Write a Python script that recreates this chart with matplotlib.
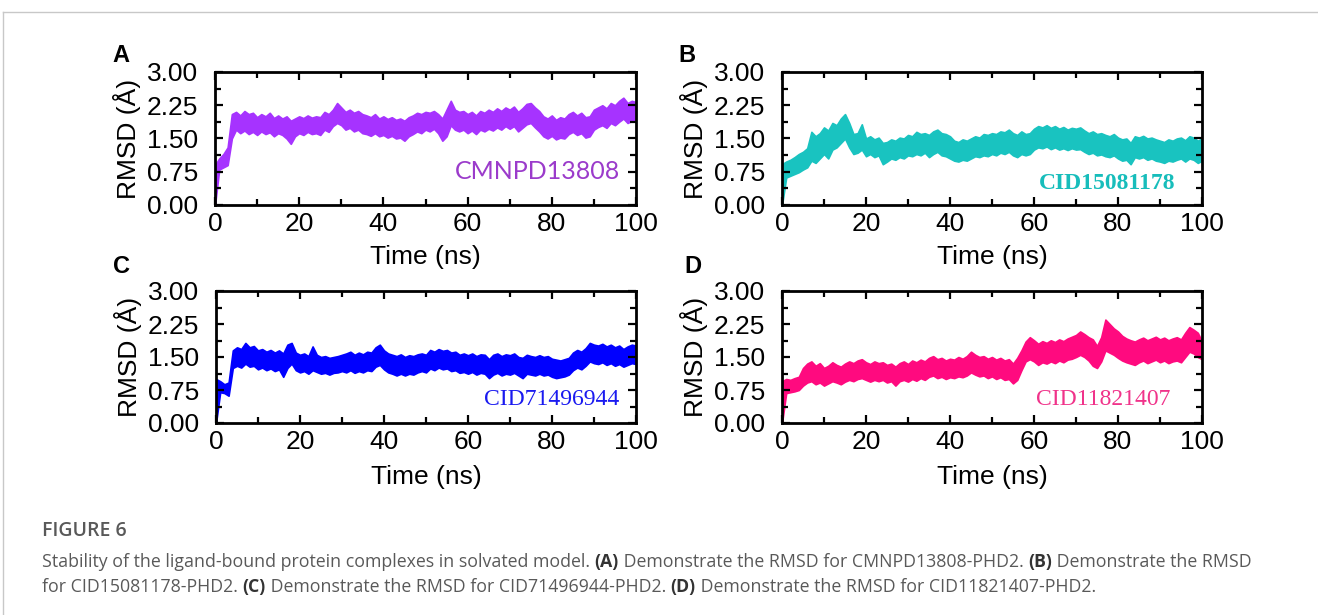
import numpy as np
import matplotlib
matplotlib.use("Agg")
import matplotlib.pyplot as plt
from matplotlib.ticker import MultipleLocator

plt.rcParams['font.family'] = ['Liberation Sans', 'DejaVu Sans']

# tiempo (ns), una lectura por ns
tiempo = np.arange(0, 101)

# envolventes (RMSD en Angstrom)
a_sup = [0.90, 1.05, 1.15, 1.30, 2.05, 2.10, 2.02, 2.12, 2.05, 2.08,
         1.98, 2.05, 2.00, 2.08, 1.96, 2.02, 1.95, 2.00, 1.90, 1.95,
         2.00, 1.96, 2.02, 1.97, 2.00, 1.98, 2.10, 2.05, 2.15, 2.30,
         2.20, 2.10, 2.15, 2.08, 2.12, 2.05, 2.02, 1.98, 2.05, 1.95,
         2.00, 1.94, 1.98, 1.92, 1.95, 1.90, 1.98, 2.02, 2.08, 2.05,
         2.10, 2.08, 2.12, 2.05, 1.95, 2.15, 2.35, 2.15, 2.10, 2.12,
         2.05, 2.10, 2.02, 2.12, 2.08, 2.15, 2.10, 2.18, 2.12, 2.20,
         2.15, 2.22, 2.10, 2.18, 2.28, 2.30, 2.20, 2.12, 2.00, 1.95,
         2.02, 1.92, 1.98, 1.95, 2.05, 2.10, 2.02, 2.08, 1.98, 2.00,
         2.15, 2.20, 2.25, 2.18, 2.30, 2.25, 2.35, 2.42, 2.30, 2.35, 2.32]
a_inf = [0.00, 0.80, 0.85, 0.90, 1.50, 1.70, 1.62, 1.68, 1.60, 1.65,
         1.58, 1.66, 1.60, 1.64, 1.55, 1.62, 1.58, 1.50, 1.38, 1.55,
         1.62, 1.58, 1.65, 1.60, 1.62, 1.58, 1.70, 1.65, 1.78, 1.85,
         1.80, 1.70, 1.74, 1.66, 1.70, 1.62, 1.60, 1.56, 1.62, 1.55,
         1.58, 1.52, 1.56, 1.50, 1.52, 1.45, 1.55, 1.60, 1.66, 1.62,
         1.70, 1.66, 1.72, 1.62, 1.45, 1.55, 1.80, 1.70, 1.66, 1.70,
         1.62, 1.68, 1.60, 1.70, 1.66, 1.72, 1.68, 1.75, 1.70, 1.78,
         1.72, 1.78, 1.66, 1.74, 1.82, 1.85, 1.75, 1.66, 1.55, 1.50,
         1.56, 1.48, 1.52, 1.50, 1.60, 1.65, 1.58, 1.62, 1.52, 1.55,
         1.70, 1.76, 1.80, 1.74, 1.85, 1.80, 1.88, 1.95, 1.85, 1.90, 1.88]

b_sup = [0.92, 0.98, 1.02, 1.08, 1.15, 1.20, 1.28, 1.65, 1.55, 1.62,
         1.75, 1.68, 1.85, 1.80, 1.95, 2.05, 1.85, 1.60, 1.62, 1.82,
         1.50, 1.55, 1.48, 1.52, 1.40, 1.42, 1.48, 1.45, 1.52, 1.50,
         1.58, 1.55, 1.65, 1.60, 1.62, 1.58, 1.66, 1.70, 1.62, 1.60,
         1.55, 1.45, 1.42, 1.48, 1.45, 1.50, 1.55, 1.52, 1.60, 1.58,
         1.62, 1.60, 1.66, 1.64, 1.70, 1.62, 1.58, 1.66, 1.60, 1.62,
         1.72, 1.78, 1.75, 1.80, 1.74, 1.78, 1.72, 1.76, 1.70, 1.74,
         1.72, 1.75, 1.68, 1.62, 1.66, 1.60, 1.62, 1.58, 1.55, 1.60,
         1.52, 1.48, 1.50, 1.40, 1.55, 1.52, 1.56, 1.50, 1.52, 1.48,
         1.45, 1.42, 1.48, 1.45, 1.50, 1.52, 1.46, 1.55, 1.52, 1.45, 1.50]
b_inf = [0.00, 0.62, 0.66, 0.70, 0.74, 0.80, 0.85, 1.00, 0.95, 1.05,
         1.15, 1.05, 1.25, 1.30, 1.40, 1.50, 1.30, 1.15, 1.18, 1.25,
         1.10, 1.15, 1.08, 1.12, 0.92, 0.98, 1.05, 1.02, 1.08, 1.05,
         1.12, 1.10, 1.15, 1.12, 1.18, 1.08, 1.15, 1.20, 1.12, 1.10,
         1.05, 1.00, 0.98, 1.02, 1.00, 1.05, 1.10, 1.08, 1.12, 1.10,
         1.15, 1.12, 1.18, 1.15, 1.20, 1.12, 1.08, 1.15, 1.12, 1.15,
         1.25, 1.30, 1.28, 1.32, 1.26, 1.30, 1.25, 1.28, 1.24, 1.28,
         1.25, 1.26, 1.20, 1.15, 1.18, 1.12, 1.14, 1.10, 1.08, 1.12,
         1.05, 1.00, 1.02, 0.92, 1.08, 1.05, 1.08, 1.02, 1.05, 1.00,
         0.98, 0.95, 1.00, 0.98, 1.02, 1.05, 0.98, 1.05, 1.02, 0.95, 1.00]

c_sup = [1.00, 0.95, 0.88, 0.92, 1.65, 1.72, 1.68, 1.82, 1.72, 1.75,
         1.65, 1.68, 1.62, 1.66, 1.60, 1.65, 1.58, 1.78, 1.82, 1.60,
         1.55, 1.58, 1.52, 1.74, 1.55, 1.50, 1.52, 1.48, 1.50, 1.52,
         1.55, 1.58, 1.62, 1.55, 1.60, 1.56, 1.62, 1.60, 1.72, 1.78,
         1.65, 1.58, 1.55, 1.52, 1.56, 1.50, 1.54, 1.52, 1.56, 1.58,
         1.55, 1.66, 1.62, 1.68, 1.64, 1.66, 1.60, 1.62, 1.55, 1.58,
         1.54, 1.58, 1.52, 1.56, 1.55, 1.45, 1.55, 1.58, 1.52, 1.56,
         1.54, 1.58, 1.50, 1.48, 1.55, 1.52, 1.50, 1.54, 1.50, 1.52,
         1.46, 1.44, 1.42, 1.45, 1.48, 1.60, 1.66, 1.62, 1.70, 1.82,
         1.78, 1.76, 1.80, 1.74, 1.78, 1.72, 1.76, 1.68, 1.74, 1.78, 1.76]
c_inf = [0.00, 0.70, 0.68, 0.62, 1.25, 1.30, 1.26, 1.35, 1.28, 1.30,
         1.22, 1.26, 1.20, 1.24, 1.18, 1.22, 1.05, 1.25, 1.35, 1.20,
         1.15, 1.18, 1.12, 1.20, 1.16, 1.12, 1.14, 1.10, 1.14, 1.15,
         1.18, 1.15, 1.20, 1.14, 1.18, 1.15, 1.20, 1.18, 1.28, 1.32,
         1.22, 1.15, 1.12, 1.08, 1.12, 1.08, 1.12, 1.10, 1.15, 1.18,
         1.15, 1.24, 1.20, 1.26, 1.22, 1.24, 1.18, 1.20, 1.14, 1.16,
         1.12, 1.16, 1.10, 1.14, 1.12, 1.02, 1.10, 1.14, 1.08, 1.12,
         1.10, 1.14, 1.08, 1.02, 1.12, 1.10, 1.08, 1.12, 1.08, 1.10,
         1.05, 1.02, 1.04, 1.06, 1.10, 1.20, 1.26, 1.22, 1.30, 1.40,
         1.36, 1.34, 1.38, 1.32, 1.36, 1.30, 1.34, 1.28, 1.32, 1.36, 1.34]

d_sup = [0.95, 1.00, 0.98, 1.02, 1.05, 1.25, 1.35, 1.40, 1.30, 1.36,
         1.25, 1.30, 1.38, 1.32, 1.28, 1.35, 1.40, 1.36, 1.42, 1.45,
         1.38, 1.34, 1.40, 1.36, 1.38, 1.32, 1.35, 1.28, 1.36, 1.40,
         1.34, 1.42, 1.38, 1.44, 1.40, 1.48, 1.52, 1.45, 1.48, 1.42,
         1.46, 1.44, 1.50, 1.46, 1.52, 1.62, 1.55, 1.50, 1.52, 1.46,
         1.50, 1.44, 1.48, 1.42, 1.45, 1.35, 1.48, 1.65, 1.85, 1.95,
         1.88, 1.80, 1.86, 1.82, 1.88, 1.84, 1.90, 1.86, 1.92, 1.96,
         2.00, 2.08, 2.02, 1.95, 1.90, 1.75, 1.95, 2.35, 2.25, 2.15,
         2.08, 1.98, 1.92, 1.88, 1.85, 1.90, 1.94, 1.88, 1.92, 1.96,
         1.90, 1.94, 1.88, 1.92, 1.95, 1.90, 2.05, 2.18, 2.12, 2.05, 1.85]
d_inf = [0.00, 0.68, 0.70, 0.72, 0.75, 0.85, 0.92, 0.95, 0.88, 0.92,
         0.85, 0.90, 0.95, 0.92, 0.88, 0.94, 0.98, 0.95, 1.00, 1.02,
         0.98, 0.94, 0.98, 0.95, 0.98, 0.92, 0.95, 0.85, 0.95, 0.98,
         0.94, 1.00, 0.96, 1.02, 0.98, 1.05, 1.08, 1.02, 1.05, 1.00,
         1.04, 1.02, 1.06, 1.04, 1.08, 1.15, 1.10, 1.06, 1.08, 1.02,
         1.06, 1.00, 1.04, 0.98, 1.00, 0.90, 0.98, 1.20, 1.40, 1.45,
         1.40, 1.32, 1.38, 1.35, 1.40, 1.36, 1.42, 1.38, 1.44, 1.46,
         1.50, 1.55, 1.50, 1.42, 1.30, 1.25, 1.40, 1.65, 1.60, 1.55,
         1.48, 1.42, 1.38, 1.35, 1.32, 1.38, 1.42, 1.36, 1.40, 1.44,
         1.38, 1.42, 1.36, 1.40, 1.42, 1.38, 1.50, 1.62, 1.58, 1.50, 1.45]

nombres = ['CMNPD13808', 'CID15081178', 'CID71496944', 'CID11821407']
letras = ['A', 'B', 'C', 'D']
colores = ['#A633FF', '#19C3C0', '#0000FF', '#FF0A7F']
colores_txt = ['#9B3BCB', '#17BDBB', '#1A1AF0', '#F0338A']

fig = plt.figure(figsize=(13.18, 6.15), dpi=100)
W, H = 1318, 615

# marco gris de la pagina
fig.add_artist(plt.Line2D([3 / W, 1], [1 - 12 / H, 1 - 12 / H], color='#c8c8c8', lw=1))
fig.add_artist(plt.Line2D([3 / W, 3 / W], [0, 1 - 12 / H], color='#c8c8c8', lw=1))

# cajas en pixeles: (izq, arriba, der, abajo)
cajas = [(215, 72, 636, 205), (782, 72, 1202, 205),
         (216, 291, 636, 423), (782, 291, 1202, 423)]
datos = [(a_sup, a_inf), (b_sup, b_inf), (c_sup, c_inf), (d_sup, d_inf)]
pos_txt = [(0.765, 0.25), (0.775, 0.16), (0.80, 0.175), (0.765, 0.175)]
fuentes_txt = [dict(family='Lato', weight='normal', size=18),
               dict(family='Liberation Serif', weight='bold', size=17),
               dict(family='Liberation Serif', weight='normal', size=17),
               dict(family='Liberation Serif', weight='normal', size=17)]
pos_letra = [(121, 55), (687, 55), (121, 267), (693, 267)]

for i in range(4):
    x0, y0, x1, y1 = cajas[i]
    ax = fig.add_axes([x0 / W, 1 - y1 / H, (x1 - x0) / W, (y1 - y0) / H])
    sup, inf = datos[i]
    ax.fill_between(tiempo, inf, sup, color=colores[i], lw=1.2, edgecolor=colores[i])
    ax.set_xlim(0, 100)
    ax.set_ylim(0, 3)
    ax.xaxis.set_major_locator(MultipleLocator(20))
    ax.xaxis.set_minor_locator(MultipleLocator(10))
    ax.yaxis.set_major_locator(MultipleLocator(0.75))
    ax.yaxis.set_minor_locator(MultipleLocator(0.375))
    ax.yaxis.set_major_formatter(plt.FormatStrFormatter('%.2f'))
    ax.tick_params(which='both', direction='in', top=True, right=True, width=1.6)
    ax.tick_params(which='major', length=6, labelsize=19)
    ax.tick_params(which='minor', length=4)
    ax.tick_params(axis='x', pad=5)
    ax.tick_params(axis='y', pad=12)
    for s in ax.spines.values():
        s.set_linewidth(2)
    ax.set_xlabel('Time (ns)', fontsize=19)
    ax.set_ylabel('RMSD (Å)', fontsize=19)
    ax.yaxis.set_label_coords(-0.176, 0.5)
    ax.xaxis.set_label_coords(0.5, -0.30 if i < 2 else -0.318)
    tx, ty = pos_txt[i]
    ax.text(tx, ty, nombres[i], transform=ax.transAxes, ha='center', va='center',
            color=colores_txt[i], **fuentes_txt[i])
    lx, ly = pos_letra[i]
    fig.text(lx / W, 1 - ly / H, letras[i], ha='center', va='center',
             fontsize=17, fontweight='bold')

# pie de figura con trozos en negrita
gris = '#595959'
fig.text(42 / W, 1 - 531 / H, 'FIGURE 6', fontsize=14, fontweight='semibold',
         color=gris, family='Open Sans', va='center')

renderer = fig.canvas.get_renderer()


def linea_mixta(y, trozos):
    x = 42
    for texto, negrita in trozos:
        t = fig.text(x / W, 1 - y / H, texto, fontsize=12.8, family='Open Sans',
                     fontweight='bold' if negrita else 'normal',
                     color='#333333' if negrita else gris, va='center')
        x += t.get_window_extent(renderer).width


linea_mixta(562, [('Stability of the ligand-bound protein complexes in solvated model. ', False),
                  ('(A)', True), (' Demonstrate the RMSD for CMNPD13808-PHD2. ', False),
                  ('(B)', True), (' Demonstrate the RMSD', False)])
linea_mixta(587, [('for CID15081178-PHD2. ', False), ('(C)', True),
                  (' Demonstrate the RMSD for CID71496944-PHD2. ', False),
                  ('(D)', True), (' Demonstrate the RMSD for CID11821407-PHD2.', False)])

plt.savefig('out.png', dpi=100)
